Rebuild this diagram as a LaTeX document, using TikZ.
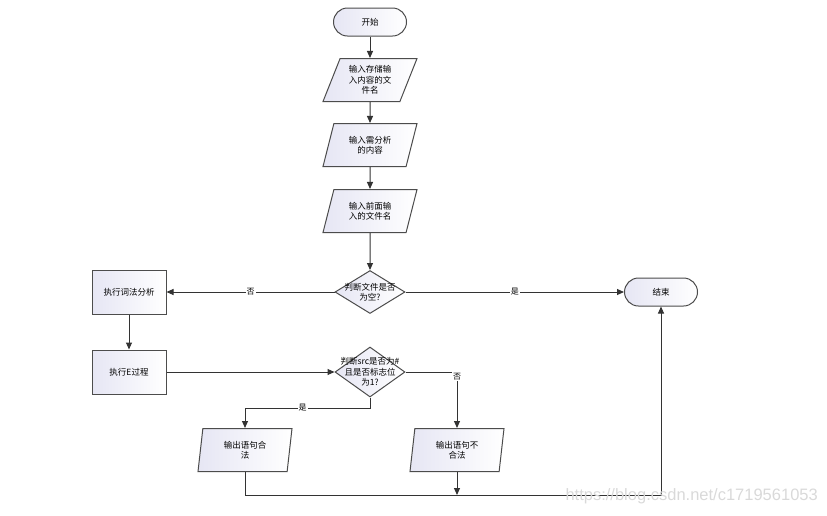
\documentclass[tikz,border=0pt]{standalone}
\usepackage{fontspec}
\setmainfont{Noto Sans CJK SC}
\setsansfont{Liberation Sans}
\usetikzlibrary{shapes.geometric,arrows.meta}
\definecolor{shapeTint}{RGB}{230,230,244}

\begin{document}
\begin{tikzpicture}[x=1pt,y=-1pt,%
  lineStyle/.style={draw=black!80,line width=1pt},%
  arrowStyle/.style={lineStyle,-{Triangle[length=7pt,width=6pt]}},%
  textStyle/.style={font=\fontsize{8.5}{10.3}\selectfont,align=center},%
  fillStyle/.style={draw=black!70,line width=1pt,left color=shapeTint,right color=white,textStyle},%
  termStyle/.style={fillStyle,rectangle,rounded corners=14pt,minimum width=73pt,minimum height=28pt},%
  procStyle/.style={fillStyle,rectangle,minimum width=74pt,minimum height=44pt},%
  inStyle/.style={fillStyle,trapezium,trapezium left angle=59,trapezium right angle=121,%
    trapezium stretches body=true,minimum width=94pt,minimum height=43pt,inner sep=0pt},%
  outStyle/.style={inStyle,trapezium left angle=75,trapezium right angle=105},%
  decideStyle/.style={fillStyle,diamond,minimum width=70pt,inner sep=0pt},%
  labelStyle/.style={fill=white,inner sep=1pt,font=\fontsize{8}{9}\selectfont}
]
\useasboundingbox (0,0) rectangle (827,515);
%
% The input column.
\node[termStyle] (start) at (370,22) {开始};
\node[inStyle] (inFile) at (370,80) {输入存储输\\入内容的文\\件名};
\node[inStyle] (inText) at (370,145) {输入需分析\\的内容};
\node[inStyle] (inPrev) at (370,211) {输入前面输\\入的文件名};
\node[decideStyle,minimum height=43pt,label={[textStyle]center:{判断文件是否\\为空?}}] (isEmpty) at (370,292) {};
\node[termStyle] (stop) at (661,292) {结束};
%
% The analysis steps.
\node[procStyle] (lexer) at (129,292) {执行词法分析};
\node[procStyle] (procE) at (129,372) {执行E过程};
\node[decideStyle,minimum height=50pt,label={[textStyle]center:{判断src是否为\#\\且是否标志位\\为1?}}] (isHash) at (370,372) {};
\node[outStyle] (legal) at (245,450) {输出语句合\\法};
\node[outStyle] (illegal) at (457,450) {输出语句不\\合法};
\coordinate (yesBend) at (370,408);
\coordinate (merge) at (457,495);
%
% Connectors.
\draw[arrowStyle] (start) -- (inFile);
\draw[arrowStyle] (inFile) -- (inText);
\draw[arrowStyle] (inText) -- (inPrev);
\draw[arrowStyle] (inPrev) -- (isEmpty);
\draw[arrowStyle] (isEmpty) -- node[labelStyle] {否} (lexer);
\draw[arrowStyle] (isEmpty) -- node[labelStyle] {是} (stop);
\draw[arrowStyle] (lexer) -- (procE);
\draw[arrowStyle] (procE) -- (isHash);
\draw[arrowStyle] (isHash) -- (yesBend) -| node[labelStyle,pos=0.27] {是} (legal);
\draw[arrowStyle] (isHash) -| node[labelStyle,pos=0.54] {否} (illegal);
\draw[lineStyle] (legal) |- (merge);
\draw[arrowStyle] (illegal) -- (merge);
\draw[arrowStyle] (merge) -| (stop);
%
% The watermark.
\node[anchor=west,text=gray!30,font=\sffamily\fontsize{16.5}{16.5}\selectfont] (mark) at (562,496) {https://blog.csdn.net/c1719561053};
\end{tikzpicture}
\end{document}
